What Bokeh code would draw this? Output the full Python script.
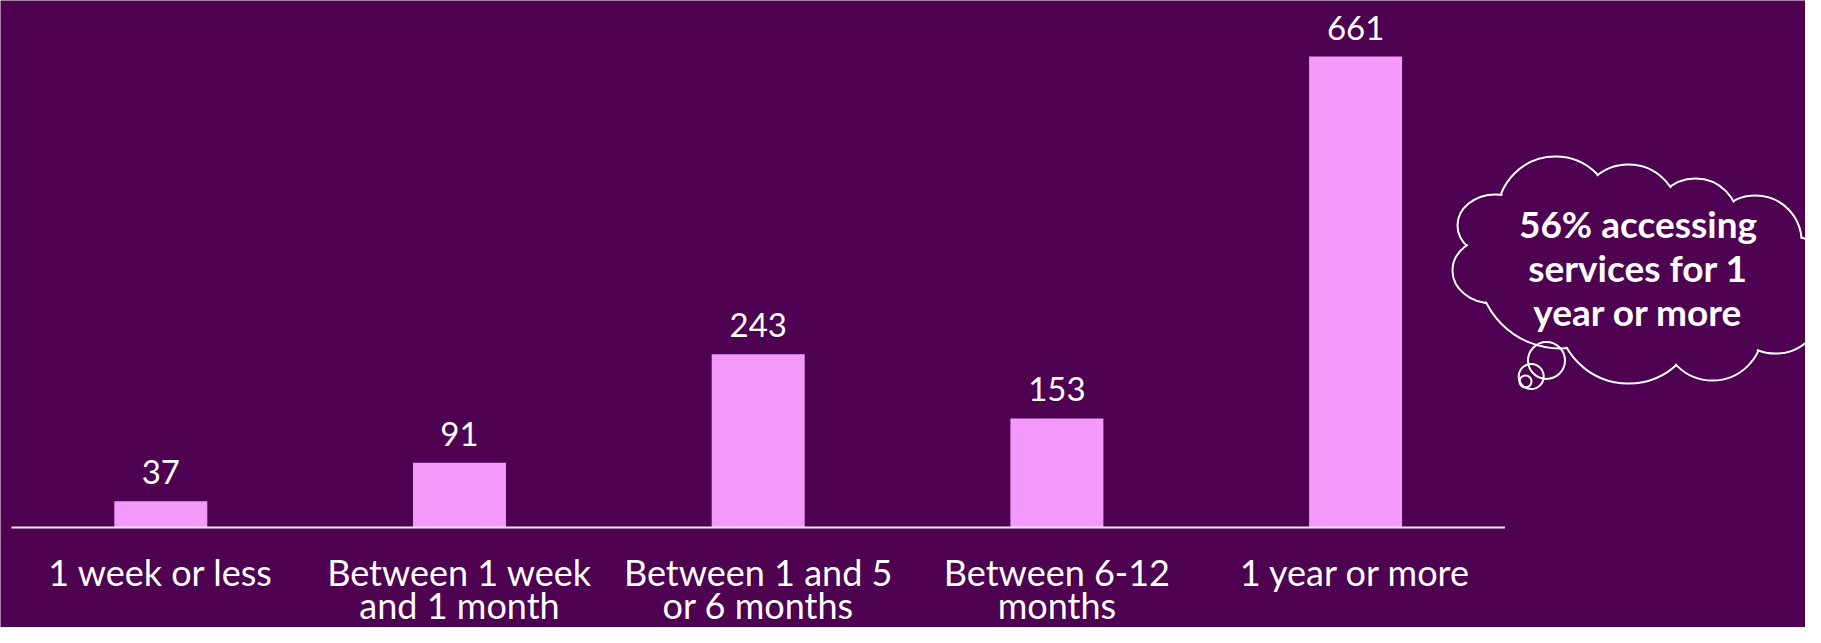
from bokeh.plotting import figure
from bokeh.models import Range1d
from bokeh.embed import file_html
from bokeh.resources import INLINE
from bokeh.core.properties import value

# ---------------- data ----------------
categories = [
    "1 week or less",
    "Between 1 week\nand 1 month",
    "Between 1 and 5\nor 6 months",
    "Between 6-12\nmonths",
    "1 year or more",
]
counts = [37, 91, 243, 153, 661]
callout_lines = ["56% accessing", "services for 1", "year or more"]

# ---------------- style / layout ----------------
BG = "#4E0051"
BAR = "#F399FB"
TXT = "#FFFFFF"
FONT = value("Lato")
W, H = 1805, 627
STEP = 298.7            # px per category
X0 = -160.3 / STEP      # left edge of the frame in category units
BASE = 527              # canvas px of the baseline
K = 471.0 / 661         # px per count unit

p = figure(width=W, height=H,
           x_range=Range1d(X0, X0 + W / STEP),
           y_range=Range1d(-(H - BASE) / K, BASE / K),
           output_backend="svg", toolbar_location=None,
           x_axis_location=None, y_axis_location=None,
           min_border=0, background_fill_color=BG, border_fill_color=BG,
           outline_line_color=None)
p.xgrid.grid_line_color = None
p.ygrid.grid_line_color = None

idx = list(range(len(categories)))

# bars
p.vbar(x=idx, top=counts, bottom=0, width=93 / STEP, fill_color=BAR, line_color=None)

# baseline
p.segment(x0=[-0.5], x1=[len(categories) - 0.5], y0=[0], y1=[0],
          line_color="#F6EAF8", line_width=2)

# value labels
p.text(x=idx, y=counts, text=[str(v) for v in counts], y_offset=-29,
       text_align="center", text_baseline="alphabetic", text_font=FONT,
       text_font_size="33px", text_color=TXT)

# category labels (two lines)
line1 = [c.split("\n")[0] for c in categories]
line2 = [c.split("\n")[1] if "\n" in c else "" for c in categories]
p.text(x=idx, y=[0] * len(idx), text=line1, y_offset=44,
       text_align="center", text_baseline="alphabetic", text_font=FONT,
       text_font_size="36px", text_color=TXT)
p.text(x=idx, y=[0] * len(idx), text=line2, y_offset=77,
       text_align="center", text_baseline="alphabetic", text_font=FONT,
       text_font_size="36px", text_color=TXT)

# ---------------- thought cloud ----------------
def dx(px):
    return X0 + px / STEP

def dy(py):
    return (BASE - py) / K

lobes = [  # cx, cy, rx, ry in page px
    (1555, 214, 58, 58),
    (1495, 225, 38, 31),
    (1492, 270, 40, 33),
    (1560, 265, 83, 83),
    (1628, 312, 71, 71),
    (1712, 330, 50, 50),
    (1775, 305, 48, 48),
    (1790, 268, 33, 33),
    (1755, 241, 46, 46),
    (1695, 221, 43, 43),
    (1628, 214, 50, 50),
]
lx = [dx(l[0]) for l in lobes]
ly = [dy(l[1]) for l in lobes]
p.ellipse(x=lx, y=ly, width=[2 * l[2] for l in lobes], height=[2 * l[3] for l in lobes],
          width_units="screen", height_units="screen",
          fill_color=BG, line_color="white", line_width=2)
p.ellipse(x=lx, y=ly, width=[2 * l[2] - 2.8 for l in lobes], height=[2 * l[3] - 2.8 for l in lobes],
          width_units="screen", height_units="screen",
          fill_color=BG, line_color=None)
p.ellipse(x=[dx(1650)], y=[dy(270)], width=[240], height=[140],
          width_units="screen", height_units="screen",
          fill_color=BG, line_color=None)

bubbles = [(1546, 360, 18.5), (1530.7, 376, 12.5), (1525, 381, 6)]
p.ellipse(x=[dx(b[0]) for b in bubbles], y=[dy(b[1]) for b in bubbles],
          width=[2 * b[2] for b in bubbles], height=[2 * b[2] for b in bubbles],
          width_units="screen", height_units="screen",
          fill_color=None, line_color="white", line_width=2)

p.text(x=[dx(1637.5)] * 3, y=[dy(223), dy(267), dy(311)], text=callout_lines,
       text_align="center", text_baseline="alphabetic", text_font=FONT,
       text_font_size="37px", text_font_style="bold", text_color=TXT)

html = file_html(p, INLINE)
html = html.replace("<body>", '<body style="background-color:%s;">' % BG, 1)
open("out.html", "w").write(html)
